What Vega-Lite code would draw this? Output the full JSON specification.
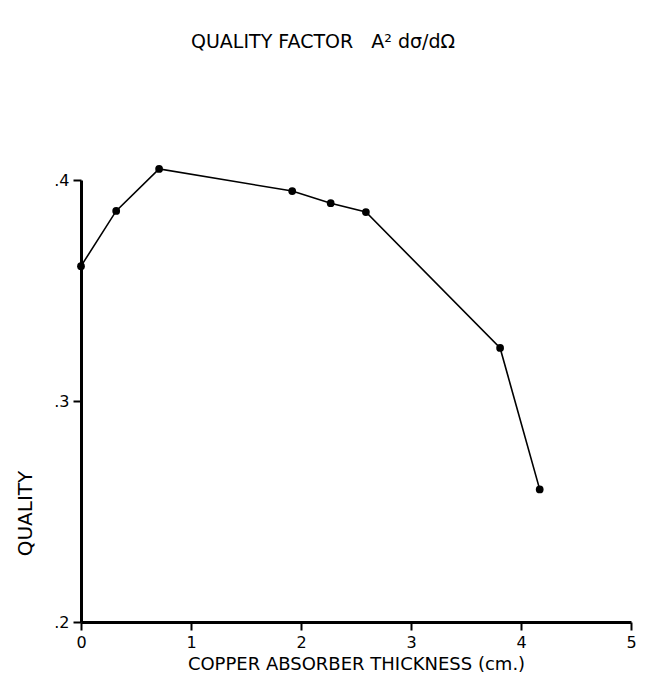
{
  "$schema": "https://vega.github.io/schema/vega-lite/v6.json",
  "width": 550,
  "height": 442,
  "autosize": {"type": "none"},
  "padding": {"left": 81, "top": 180, "right": 17, "bottom": 70},
  "background": "white",
  "config": {"view": {"stroke": null}, "font": "DejaVu Sans"},
  "title": {
    "text": "QUALITY FACTOR\u00a0\u00a0\u00a0A\u00b2 dσ/dΩ",
    "anchor": "middle",
    "dx": -33,
    "offset": 113,
    "fontSize": 19,
    "fontWeight": "normal",
    "color": "black"
  },
  "data": {
    "values": [
      {"thickness": 0.0, "quality": 0.361},
      {"thickness": 0.32, "quality": 0.386},
      {"thickness": 0.71, "quality": 0.405},
      {"thickness": 1.92, "quality": 0.395},
      {"thickness": 2.27, "quality": 0.3895},
      {"thickness": 2.59, "quality": 0.3855},
      {"thickness": 3.81, "quality": 0.324},
      {"thickness": 4.17, "quality": 0.26}
    ]
  },
  "encoding": {
    "x": {
      "field": "thickness",
      "type": "quantitative",
      "scale": {"domain": [0, 5], "nice": false, "zero": false},
      "axis": {
        "title": "COPPER ABSORBER THICKNESS (cm.)",
        "values": [0, 1, 2, 3, 4, 5],
        "grid": false,
        "labelFlush": false,
        "domainColor": "black",
        "domainWidth": 3,
        "tickColor": "black",
        "tickWidth": 2,
        "tickSize": 8,
        "labelFontSize": 16,
        "labelColor": "black",
        "labelPadding": 4,
        "titleFontSize": 18,
        "titleFontWeight": "normal",
        "titleColor": "black",
        "titlePadding": 5
      }
    },
    "y": {
      "field": "quality",
      "type": "quantitative",
      "scale": {"domain": [0.2, 0.4], "nice": false, "zero": false},
      "axis": {
        "title": "QUALITY",
        "values": [0.2, 0.3, 0.4],
        "labelExpr": "replace(format(datum.value, '.1f'), '0.', '.')",
        "labelFlush": false,
        "grid": false,
        "domainColor": "black",
        "domainWidth": 3,
        "tickColor": "black",
        "tickWidth": 2,
        "tickSize": 8,
        "labelFontSize": 16,
        "labelColor": "black",
        "labelPadding": 4,
        "titleFontSize": 20,
        "titleFontWeight": "normal",
        "titleColor": "black",
        "titleY": 333,
        "titleX": -46
      }
    }
  },
  "layer": [
    {"mark": {"type": "line", "color": "black", "strokeWidth": 1.6}},
    {"mark": {"type": "point", "filled": true, "color": "black", "size": 60, "opacity": 1}}
  ]
}
